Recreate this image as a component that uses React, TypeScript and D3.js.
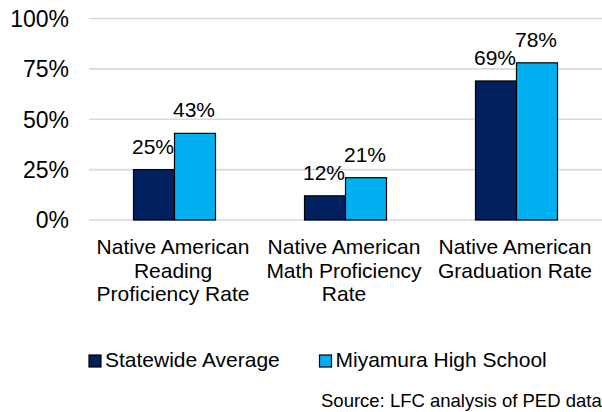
import React from "react";
import * as d3 from "d3";

const categories: string[][] = [
  ["Native American", "Reading", "Proficiency Rate"],
  ["Native American", "Math Proficiency", "Rate"],
  ["Native American", "Graduation Rate"],
];
const seriesNames = ["Statewide Average", "Miyamura High School"];
const statewide = [25, 12, 69];
const miyamura = [43, 21, 78];
const yTicks = [0, 25, 50, 75, 100];
const sourceText = "Source: LFC analysis of PED data";

const colors = ["#002060", "#00B0F0"];
const font = "'Liberation Sans', Arial, sans-serif";

export default function App() {
  const W = 602;
  const H = 412;
  const x = d3
    .scaleBand<number>()
    .domain(d3.range(categories.length))
    .range([89, 602])
    .paddingInner(0)
    .paddingOuter(0);
  const y = d3.scaleLinear().domain([0, 100]).range([220, 18.5]);
  const barW = 41;
  const series = [statewide, miyamura];

  return (
    <svg
      width={W}
      height={H}
      style={{ position: "absolute", left: 0, top: 0, background: "#fff" }}
      fontFamily={font}
    >
      {yTicks.map((t) => (
        <g key={t}>
          <line x1={89} x2={602} y1={y(t)} y2={y(t)} stroke="#d9d9d9" strokeWidth={1.6} />
          <text
            x={69}
            y={y(t)}
            dy="0.36em"
            textAnchor="end"
            fontSize={23}
            fill="#000"
          >
            {t}%
          </text>
        </g>
      ))}
      {categories.map((_, i) => {
        const cx = (x(i) as number) + x.bandwidth() / 2;
        return series.map((s, j) => {
          const bx = cx - barW + j * barW;
          const v = s[i];
          return (
            <g key={`${i}-${j}`}>
              <rect
                x={bx}
                y={y(v)}
                width={barW}
                height={y(0) - y(v)}
                fill={colors[j]}
                stroke="#000"
                strokeWidth={1.2}
              />
              <text
                x={bx + barW / 2 - 1}
                y={y(v) - 16}
                textAnchor="middle"
                fontSize={21}
                fill="#000"
              >
                {v}%
              </text>
            </g>
          );
        });
      })}
      {categories.map((lines, i) => {
        const cx = (x(i) as number) + x.bandwidth() / 2;
        return (
          <text key={i} textAnchor="middle" fontSize={21} fill="#000">
            {lines.map((ln, k) => (
              <tspan key={k} x={cx - 1.5} y={254 + k * 23.5}>
                {ln}
              </tspan>
            ))}
          </text>
        );
      })}
      {seriesNames.map((name, j) => {
        const lx = j === 0 ? 89 : 319.5;
        return (
          <g key={name}>
            <rect x={lx} y={355} width={12} height={12} fill={colors[j]} stroke="#000" strokeWidth={1.2} />
            <text x={lx + 16} y={367} fontSize={21} fill="#000">
              {name}
            </text>
          </g>
        );
      })}
      <text x={321} y={406.5} fontSize={18.5} fill="#000">
        {sourceText}
      </text>
    </svg>
  );
}
